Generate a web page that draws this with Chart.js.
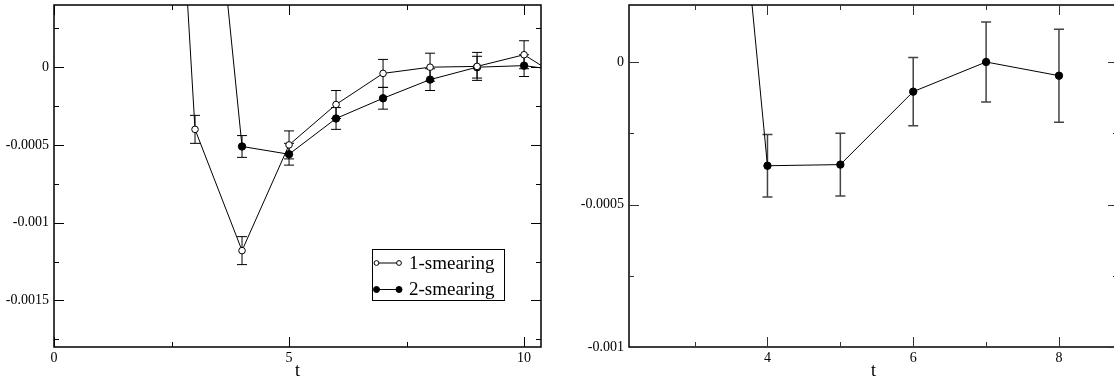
<!DOCTYPE html>
<html>
<head>
<meta charset="utf-8">
<script src="https://cdn.jsdelivr.net/npm/chart.js@4"></script>
<style>
  html, body { margin: 0; padding: 0; background: #fff; overflow: hidden; width: 1114px; height: 383px; }
  #left { position: absolute; left: 0; top: 0; }
  #right { position: absolute; left: 570px; top: 0; }
</style>
</head>
<body>
<canvas id="left" width="560" height="383"></canvas>
<canvas id="right" width="560" height="383"></canvas>
<script>
// left panel, two smearings
const tSmear1 = [2, 3, 4, 5, 6, 7, 8, 9, 10, 11];
const smear1 = [0.0047, -0.0004, -0.00118, -0.0005, -0.00024, -0.00004, 0.0, 0.000005, 0.00008, -0.00011];
const smear1Err = [0.00009, 0.00009, 0.00009, 0.00009, 0.00009, 0.00009, 0.00009, 0.00009, 0.00009, 0.00009];

const tSmear2 = [3, 4, 5, 6, 7, 8, 9, 10, 11];
const smear2 = [0.0025, -0.00051, -0.00056, -0.00033, -0.0002, -0.00008, 0.0, 0.00001, -0.00003];
const smear2Err = [0.00007, 0.00007, 0.00007, 0.00007, 0.00007, 0.00007, 0.00007, 0.00007, 0.00007];

// right panel
const tRight = [3, 4, 5, 6, 7, 8];
const rightVals = [0.0023, -0.000364, -0.00036, -0.000104, 0.0, -0.000048];
const rightErr = [0.00011, 0.00011, 0.00011, 0.00012, 0.00014, 0.000163];

const seriesNames = ['1-smearing', '2-smearing'];

const serif = 'Liberation Serif, Times New Roman, serif';

function fmt(v) {
  return Number(Number(v).toPrecision(6)).toString();
}

function toPoints(xs, ys) {
  return xs.map((x, i) => ({ x: x, y: ys[i] }));
}

// frame, inward ticks on all four sides, error bars
const framePlugin = {
  id: 'frame',
  beforeDatasetsDraw(chart) {
    const ctx = chart.ctx;
    const a = chart.chartArea;
    const ys = chart.scales.y;
    const xs = chart.scales.x;
    ctx.save();
    ctx.beginPath();
    ctx.rect(a.left, a.top, a.right - a.left, a.bottom - a.top);
    ctx.clip();
    chart.data.datasets.forEach(ds => {
      const errs = ds.errors || [];
      ctx.strokeStyle = ds.barColor || '#000';
      ctx.lineWidth = ds.barWidth || 1;
      ds.data.forEach((p, i) => {
        const e = errs[i];
        if (e == null) return;
        const px = xs.getPixelForValue(p.x);
        const y1 = ys.getPixelForValue(p.y + e);
        const y2 = ys.getPixelForValue(p.y - e);
        ctx.beginPath();
        ctx.moveTo(px, y1); ctx.lineTo(px, y2);
        ctx.moveTo(px - 5, y1); ctx.lineTo(px + 5, y1);
        ctx.moveTo(px - 5, y2); ctx.lineTo(px + 5, y2);
        ctx.stroke();
      });
    });
    ctx.restore();
  },
  afterDraw(chart, args, opts) {
    const ctx = chart.ctx;
    const a = chart.chartArea;
    const xs = chart.scales.x;
    const ys = chart.scales.y;
    ctx.save();
    ctx.strokeStyle = '#000';
    ctx.lineWidth = 1.5;
    ctx.strokeRect(a.left, a.top, a.right - a.left, a.bottom - a.top);

    ctx.lineWidth = 1;
    ctx.strokeStyle = opts.tickColor || '#000';
    const xMinor = opts.xMinor, yMinor = opts.yMinor;
    for (let v = Math.ceil(xs.min / xMinor) * xMinor; v <= xs.max + 1e-9; v += xMinor) {
      const major = Math.abs(v / xs.options.ticks.stepSize - Math.round(v / xs.options.ticks.stepSize)) < 1e-6;
      const len = major ? 10 : 5;
      const px = Math.round(xs.getPixelForValue(v)) + 0.5;
      ctx.beginPath();
      ctx.moveTo(px, a.bottom); ctx.lineTo(px, a.bottom - len);
      ctx.moveTo(px, a.top); ctx.lineTo(px, a.top + len);
      ctx.stroke();
    }
    for (let k = Math.ceil(ys.min / yMinor - 1e-6); k * yMinor <= ys.max + 1e-12; k++) {
      const v = k * yMinor;
      const r = v / ys.options.ticks.stepSize;
      const major = Math.abs(r - Math.round(r)) < 1e-6;
      const len = major ? 10 : 5;
      const py = Math.round(ys.getPixelForValue(v)) + 0.5;
      ctx.beginPath();
      ctx.moveTo(a.left, py); ctx.lineTo(a.left + len, py);
      ctx.moveTo(a.right, py); ctx.lineTo(a.right - len, py);
      ctx.stroke();
    }

    // legend
    if (opts.legend) {
      const L = opts.legend;
      ctx.fillStyle = '#fff';
      ctx.fillRect(L.x, L.y, L.w, L.h);
      ctx.strokeStyle = '#000';
      ctx.lineWidth = 1;
      ctx.strokeRect(L.x + 0.5, L.y + 0.5, L.w, L.h);
      ctx.font = '19px ' + serif;
      ctx.textBaseline = 'middle';
      ctx.textAlign = 'left';
      chart.data.datasets.forEach((ds, i) => {
        const cy = L.y + 14 + i * 26.5;
        const x1 = L.x + 4.5, x2 = L.x + 27;
        ctx.strokeStyle = '#000';
        ctx.beginPath();
        ctx.moveTo(x1, cy); ctx.lineTo(x2, cy);
        ctx.stroke();
        [x1, x2].forEach(cx => {
          ctx.beginPath();
          ctx.arc(cx, cy, ds.pointBackgroundColor === '#fff' ? 2.4 : 3, 0, Math.PI * 2);
          ctx.fillStyle = ds.pointBackgroundColor;
          ctx.fill();
          ctx.stroke();
        });
        ctx.fillStyle = '#000';
        ctx.fillText(ds.label, L.x + 37, cy + 1);
      });
    }
    ctx.restore();
  }
};

function makeOptions(cfg) {
  return {
    responsive: false,
    animation: false,
    layout: { padding: cfg.padding },
    plugins: {
      legend: { display: false },
      tooltip: { enabled: false },
      frame: cfg.frame
    },
    scales: {
      x: {
        type: 'linear',
        min: cfg.xMin,
        max: cfg.xMax,
        afterFit: s => {
          s.height = 36;
          s.paddingLeft = 0; s.paddingRight = 0;
          s.paddingTop = 0; s.paddingBottom = 0;
        },
        grid: { display: false, drawTicks: false },
        border: { display: false },
        ticks: {
          stepSize: cfg.xStep,
          includeBounds: false,
          padding: 3,
          maxRotation: 0,
          autoSkip: false,
          color: '#000',
          font: { family: serif, size: 14 },
          callback: fmt
        },
        title: {
          display: true,
          text: 't',
          color: '#000',
          font: { family: serif, size: 18 },
          padding: { top: 0, bottom: 1 }
        }
      },
      y: {
        type: 'linear',
        min: cfg.yMin,
        max: cfg.yMax,
        afterFit: s => {
          s.width = cfg.yWidth;
          s.paddingTop = 0; s.paddingBottom = 0;
          s.paddingLeft = 0; s.paddingRight = 0;
        },
        grid: { display: false, drawTicks: false },
        border: { display: false },
        ticks: {
          stepSize: 0.0005,
          includeBounds: false,
          padding: 5,
          color: '#000',
          font: { family: serif, size: 14 },
          callback: fmt
        }
      }
    }
  };
}

function lineSet(label, xs, ys, errs, filled, extra) {
  return Object.assign({
    label: label,
    data: toPoints(xs, ys),
    errors: errs,
    borderColor: '#000',
    borderWidth: 1,
    pointRadius: filled ? 3.7 : 3.3,
    pointBorderWidth: 1,
    pointBorderColor: '#000',
    pointBackgroundColor: filled ? '#000' : '#fff',
    tension: 0,
    fill: false
  }, extra || {});
}

new Chart(document.getElementById('left'), {
  type: 'line',
  data: {
    datasets: [
      lineSet(seriesNames[0], tSmear1, smear1, smear1Err, false),
      lineSet(seriesNames[1], tSmear2, smear2, smear2Err, true)
    ]
  },
  options: makeOptions({
    padding: { top: 5, right: 19, left: 0, bottom: 0 },
    xMin: 0, xMax: 10.36, xStep: 5,
    yMin: -0.0018, yMax: 0.0004, yWidth: 54,
    frame: { xMinor: 2.5, yMinor: 0.00025, legend: { x: 372, y: 249, w: 132, h: 51 } }
  }),
  plugins: [framePlugin]
});

new Chart(document.getElementById('right'), {
  type: 'line',
  data: {
    datasets: [
      lineSet('', tRight, rightVals, rightErr, true, { barColor: '#444', barWidth: 1.5 })
    ]
  },
  options: makeOptions({
    padding: { top: 5, right: 12, left: 0, bottom: 0 },
    xMin: 2.1, xMax: 8.81, xStep: 2,
    yMin: -0.001, yMax: 0.0002, yWidth: 59,
    frame: { xMinor: 1, yMinor: 0.00025, tickColor: '#333' }
  }),
  plugins: [framePlugin]
});
</script>
</body>
</html>
